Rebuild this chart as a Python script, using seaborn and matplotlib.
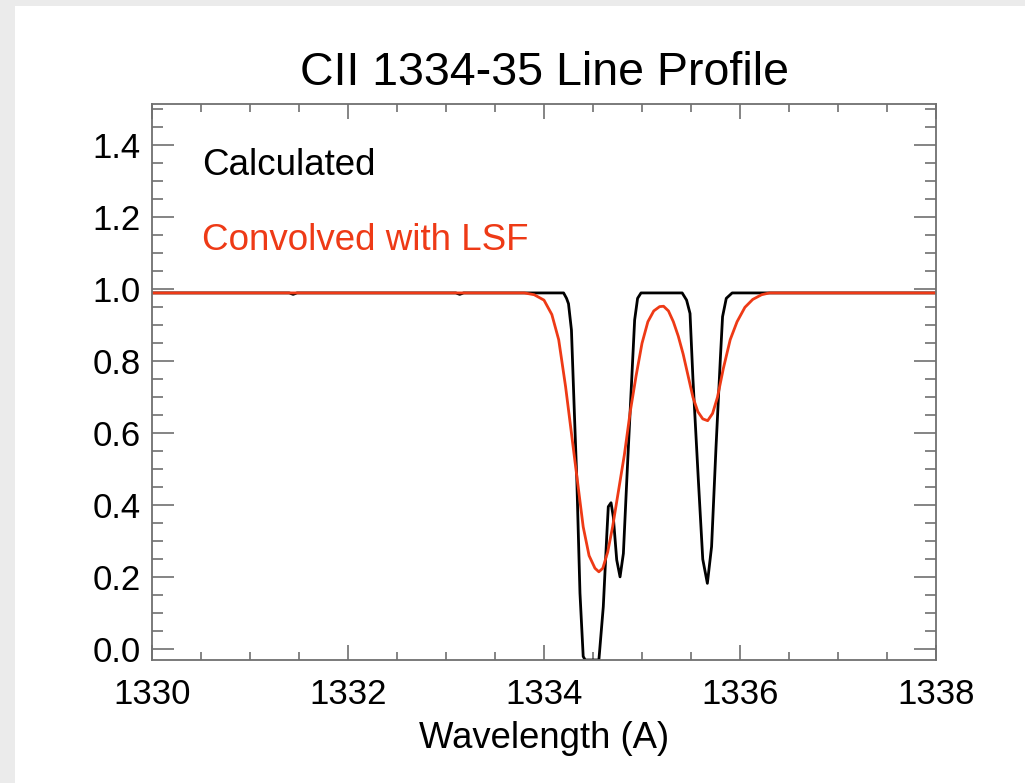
import numpy as np
import pandas as pd
import matplotlib
matplotlib.use("Agg")
import matplotlib.pyplot as plt
from matplotlib.patches import Rectangle
from matplotlib.ticker import MultipleLocator, FormatStrFormatter
import seaborn as sns

# Calculated CII 1334/1335 profile (normalised intensity)
calc_wavelength = [1330.0, 1331.40, 1331.44, 1331.48, 1333.10, 1333.14, 1333.18,
                   1334.20, 1334.23, 1334.25, 1334.28, 1334.31, 1334.335, 1334.367,
                   1334.40, 1334.42, 1334.56, 1334.605, 1334.64, 1334.656, 1334.684,
                   1334.707, 1334.742, 1334.776, 1334.81, 1334.85, 1334.895, 1334.925,
                   1334.955, 1334.99, 1335.41, 1335.455, 1335.49, 1335.52, 1335.575,
                   1335.62, 1335.667, 1335.71, 1335.755, 1335.80, 1335.822, 1335.86,
                   1335.92, 1338.0]
calc_intensity = [0.99, 0.99, 0.986, 0.99, 0.99, 0.986, 0.99,
                  0.99, 0.975, 0.96, 0.887, 0.656, 0.47, 0.156,
                  -0.02, -0.03, -0.03, 0.118, 0.313, 0.396, 0.407,
                  0.368, 0.248, 0.201, 0.266, 0.50, 0.75, 0.915,
                  0.975, 0.99, 0.99, 0.97, 0.933, 0.75, 0.47,
                  0.25, 0.183, 0.285, 0.56, 0.81, 0.924, 0.975,
                  0.99, 0.99]

# Same profile after convolution with the instrument line spread function
conv_wavelength = [1330.0, 1333.80, 1333.90, 1334.00, 1334.08, 1334.15, 1334.22,
                   1334.28, 1334.34, 1334.40, 1334.46, 1334.52, 1334.56, 1334.60,
                   1334.65, 1334.70, 1334.76, 1334.82, 1334.88, 1334.94, 1335.00,
                   1335.06, 1335.12, 1335.18, 1335.22, 1335.27, 1335.32, 1335.37,
                   1335.42, 1335.47, 1335.52, 1335.57, 1335.62, 1335.67, 1335.72,
                   1335.77, 1335.83, 1335.90, 1335.97, 1336.05, 1336.13, 1336.22,
                   1336.30, 1338.0]
conv_intensity = [0.99, 0.99, 0.985, 0.97, 0.93, 0.86, 0.73,
                  0.60, 0.47, 0.34, 0.26, 0.225, 0.215, 0.225,
                  0.27, 0.34, 0.44, 0.54, 0.66, 0.76, 0.85,
                  0.91, 0.94, 0.952, 0.953, 0.94, 0.91, 0.87,
                  0.82, 0.76, 0.70, 0.66, 0.64, 0.635, 0.655,
                  0.70, 0.78, 0.86, 0.91, 0.95, 0.972, 0.985,
                  0.99, 0.99]

series_labels = ["Calculated", "Convolved with LSF"]
series_colors = ["#000000", "#EE3A16"]

x_ticks = [1330, 1332, 1334, 1336, 1338]
y_ticks = [0.0, 0.2, 0.4, 0.6, 0.8, 1.0, 1.2, 1.4]

sns.set_theme(style="white")
plt.rcParams["font.family"] = ["Liberation Sans", "DejaVu Sans"]
plt.rcParams["text.color"] = "black"
plt.rcParams["xtick.labelcolor"] = "black"
plt.rcParams["ytick.labelcolor"] = "black"
plt.rcParams["axes.labelcolor"] = "black"

df = pd.concat([
    pd.DataFrame({"wavelength": calc_wavelength, "intensity": calc_intensity,
                  "series": series_labels[0]}),
    pd.DataFrame({"wavelength": conv_wavelength, "intensity": conv_intensity,
                  "series": series_labels[1]}),
], ignore_index=True)

fig = plt.figure(figsize=(10.25, 7.83), dpi=100)
fig.patch.set_facecolor("white")
# light grey frame along the left and top edges
fig.patches.append(Rectangle((0, 0), 15 / 1025, 1, transform=fig.transFigure,
                             facecolor="#ebebeb", edgecolor="none", zorder=0))
fig.patches.append(Rectangle((0, 1 - 6 / 783), 1, 6 / 783, transform=fig.transFigure,
                             facecolor="#ebebeb", edgecolor="none", zorder=0))

ax = fig.add_axes([152 / 1025, 1 - 660 / 783, (936 - 152) / 1025, (660 - 104) / 783])

sns.lineplot(data=df, x="wavelength", y="intensity", hue="series",
             hue_order=series_labels, palette=series_colors, sort=False,
             estimator=None, linewidth=2.0, legend=False, ax=ax)

ax.set_xlim(1330, 1338)
ax.set_ylim(-0.03, 1.515)
ax.set_xticks(x_ticks)
ax.set_yticks(y_ticks)
ax.xaxis.set_minor_locator(MultipleLocator(0.5))
ax.yaxis.set_minor_locator(MultipleLocator(0.05))
ax.yaxis.set_major_formatter(FormatStrFormatter("%.1f"))

for sp in ax.spines.values():
    sp.set_color("#707070")
    sp.set_linewidth(1.3)

ax.tick_params(axis="both", which="both", direction="in",
               bottom=True, top=True, left=True, right=True,
               color="#707070", width=1.2, labelsize=25)
ax.tick_params(axis="x", which="major", length=11, pad=13)
ax.tick_params(axis="x", which="minor", length=5.5)
ax.tick_params(axis="y", which="major", length=16, pad=8)
ax.tick_params(axis="y", which="minor", length=8)

ax.set_xlabel("Wavelength (A)", fontsize=26.3, labelpad=7)
ax.set_ylabel("")
ax.set_title("CII 1334-35 Line Profile", fontsize=33.5, pad=14)

ax.text(1330.51, 1.345, series_labels[0], color=series_colors[0], fontsize=26.5,
        va="center", ha="left")
ax.text(1330.51, 1.137, series_labels[1], color=series_colors[1], fontsize=26.5,
        va="center", ha="left")

fig.savefig("out.png", dpi=100, facecolor=fig.get_facecolor())
